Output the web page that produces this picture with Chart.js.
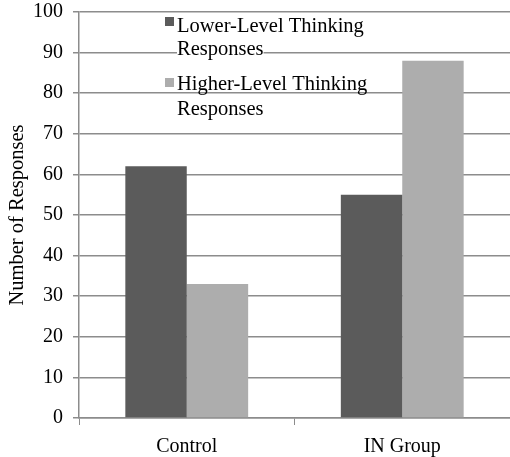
<!DOCTYPE html>
<html>
<head>
<meta charset="utf-8">
<script src="https://cdn.jsdelivr.net/npm/chart.js@4/dist/chart.umd.min.js"></script>
<style>
  html, body { margin: 0; padding: 0; background: #fff; }
  #wrap { width: 510px; height: 457px; }
</style>
</head>
<body>
<div id="wrap"><canvas id="c" width="510" height="457"></canvas></div>
<script>
const categories = ['Control', 'IN Group'];
const lowerLevel = [62, 55];
const higherLevel = [33, 88];
const seriesNames = [['Lower-Level Thinking', 'Responses'], ['Higher-Level Thinking', 'Responses']];
const yTitle = 'Number of Responses';

const FONT = '"Liberation Serif", "Times New Roman", serif';
const DARK = '#5b5b5b';
const LIGHT = '#adadad';
const LINE = '#8c8c8c';

// Legend drawn in the plot area with white text backing, as in Excel-style charts
const inlineLegend = {
  id: 'inlineLegend',
  afterDatasetsDraw(chart) {
    const ctx = chart.ctx;
    const colors = [DARK, LIGHT];
    const entries = [
      { sq: 17, lines: [32, 55] },
      { sq: 78, lines: [90, 115] }
    ];
    ctx.save();
    ctx.font = '20.5px ' + FONT;
    ctx.textBaseline = 'alphabetic';
    entries.forEach((e, i) => {
      ctx.fillStyle = colors[i];
      ctx.fillRect(165, e.sq, 9, 9);
      seriesNames[i].forEach((t, j) => {
        const w = ctx.measureText(t).width;
        const base = e.lines[j];
        ctx.fillStyle = '#fff';
        ctx.fillRect(177, base - 15, w, 16);
        ctx.fillStyle = '#000';
        ctx.fillText(t, 177, base);
      });
    });
    ctx.restore();
  }
};

new Chart(document.getElementById('c'), {
  type: 'bar',
  data: {
    labels: categories,
    datasets: [
      { label: seriesNames[0].join(' '), data: lowerLevel, backgroundColor: DARK },
      { label: seriesNames[1].join(' '), data: higherLevel, backgroundColor: LIGHT }
    ]
  },
  options: {
    responsive: false,
    animation: false,
    devicePixelRatio: 1,
    layout: { padding: { top: 12, right: 0, bottom: 0, left: 0 } },
    plugins: { legend: { display: false }, tooltip: { enabled: false } },
    datasets: { bar: { categoryPercentage: 0.57, barPercentage: 1.0 } },
    scales: {
      x: {
        offset: true,
        grid: { offset: true, drawOnChartArea: false, color: LINE, tickLength: 7 },
        border: { color: LINE, width: 1.5 },
        ticks: { color: '#000', font: { family: FONT, size: 20 }, padding: 10 },
        afterFit(s) { s.height = 39; s.paddingLeft = 0; s.paddingRight = 0; }
      },
      y: {
        min: 0, max: 100,
        ticks: { stepSize: 10, color: '#000', font: { family: FONT, size: 20 }, padding: 10 },
        grid: { color: LINE, lineWidth: 1.5, tickLength: 6 },
        border: { color: LINE, width: 1.5 },
        title: { display: true, text: yTitle, color: '#000', font: { family: FONT, size: 20.5 }, padding: { top: 5, bottom: 0 } },
        afterFit(s) { s.width = 79; s.paddingTop = 0; s.paddingBottom = 0; }
      }
    }
  },
  plugins: [inlineLegend]
});
</script>
</body>
</html>
